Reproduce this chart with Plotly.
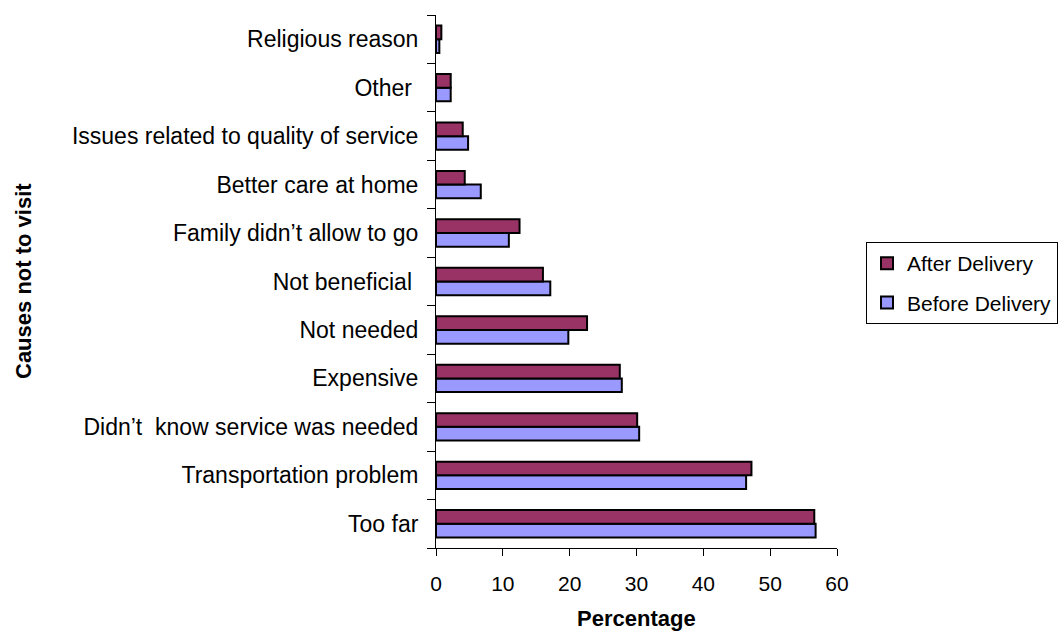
import plotly.graph_objects as go

# Reasons for not visiting a health facility, listed bottom-to-top
causes = [
    "Too far",
    "Transportation problem",
    "Didn\u2019t  know service was needed",
    "Expensive",
    "Not needed",
    "Not beneficial ",
    "Family didn\u2019t allow to go",
    "Better care at home",
    "Issues related to quality of service",
    "Other ",
    "Religious reason",
]

# Percentage of respondents per cause
after_delivery = [56.6, 47.2, 30.1, 27.5, 22.6, 16.0, 12.5, 4.3, 4.0, 2.2, 0.8]
before_delivery = [56.8, 46.4, 30.4, 27.8, 19.8, 17.1, 10.9, 6.7, 4.8, 2.2, 0.5]

x_ticks = [0, 10, 20, 30, 40, 50, 60]

FONT = "Liberation Sans, Arial, sans-serif"

fig = go.Figure()
fig.add_trace(go.Bar(
    y=causes, x=before_delivery, orientation="h", name="Before Delivery",
    legendgroup="before", legendrank=2,
    marker=dict(color="#9999FF", line=dict(color="black", width=2)),
))
fig.add_trace(go.Bar(
    y=causes, x=after_delivery, orientation="h", name="After Delivery",
    legendgroup="after", legendrank=1,
    marker=dict(color="#993366", line=dict(color="black", width=2)),
))

fig.update_layout(
    width=1061, height=639,
    margin=dict(l=436, r=224, t=15, b=91, autoexpand=False),
    paper_bgcolor="white", plot_bgcolor="white",
    font=dict(family=FONT, size=22, color="black"),
    barmode="group", bargap=0.435, bargroupgap=0,
    showlegend=True,
    legend=dict(
        x=(866 - 436) / 401, y=(548 - 242) / 533, xanchor="left", yanchor="top",
        traceorder="grouped", tracegroupgap=9,
        bordercolor="black", borderwidth=1,
        font=dict(family=FONT, size=21),
    ),
    xaxis=dict(
        range=[0, 60], tickvals=x_ticks, showgrid=False, zeroline=False,
        showline=True, linecolor="black", linewidth=1,
        ticks="outside", ticklen=7, tickcolor="black",
        ticklabelstandoff=10,
        tickfont=dict(family=FONT, size=21),
    ),
    yaxis=dict(
        type="category", showgrid=False, zeroline=False,
        showline=True, linecolor="black", linewidth=1,
        ticks="outside", ticklen=8, tickcolor="black", tickson="boundaries",
        ticklabelstandoff=12,
        tickfont=dict(family=FONT, size=23),
    ),
    annotations=[
        dict(text="<b>Percentage</b>", xref="paper", yref="paper",
             x=(636 - 436) / 401, y=-(618 - 548) / 533,
             xanchor="center", yanchor="middle", showarrow=False,
             font=dict(family=FONT, size=22)),
        dict(text="<b>Causes not to visit</b>", xref="paper", yref="paper",
             x=(23 - 436) / 401, y=(548 - 281) / 533, textangle=-90,
             xanchor="center", yanchor="middle", showarrow=False,
             font=dict(family=FONT, size=22)),
    ],
)

fig.write_html("out.html")
